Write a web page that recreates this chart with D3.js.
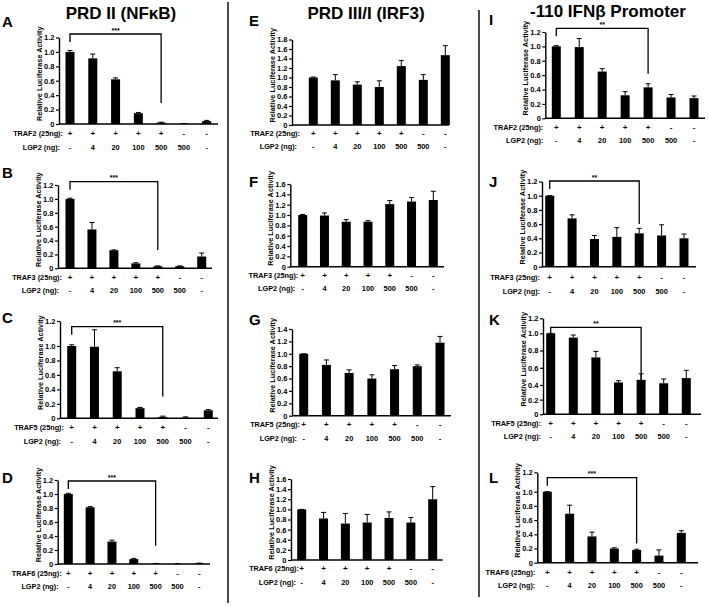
<!DOCTYPE html>
<html><head><meta charset="utf-8">
<script src="https://cdn.jsdelivr.net/npm/d3@7"></script>
<style>
html,body{margin:0;padding:0;background:#fff;}
svg{display:block;}
text{font-family:"Liberation Sans",Arial,sans-serif;font-weight:bold;fill:#000;}
</style></head>
<body>
<svg id="fig" width="709" height="607"></svg>
<script>
// ---------- DATA ----------
const columnTitles = ["PRD II (NF\u03BAB)", "PRD III/I (IRF3)", "-110 IFN\u03B2 Promoter"];
const panelLetters = ["A","B","C","D","E","F","G","H","I","J","K","L"];
const trafNames = ["TRAF2 (25ng):", "TRAF3 (25ng):", "TRAF5 (25ng):", "TRAF6 (25ng):"];
const lgp2Name = "LGP2 (ng):";
const conditions = [0,1,2,3,4,5,6];
const trafSigns = ["+","+","+","+","+","-","-"];
const lgp2Doses = ["-","4","20","100","500","500","-"];
const yLabel = "Relative Luciferase Activity";

// PRD II (NFkB)
const meanA = [1.00, 0.91, 0.62, 0.15, 0.02, 0.005, 0.04];
const errA  = [0.02, 0.06, 0.02, 0.01, 0.005, 0.002, 0.01];
const meanB = [1.00, 0.56, 0.26, 0.07, 0.03, 0.03, 0.17];
const errB  = [0.01, 0.10, 0.005, 0.01, 0.005, 0.005, 0.05];
const meanC = [1.00, 0.99, 0.65, 0.14, 0.02, 0.01, 0.11];
const errC  = [0.01, 0.14, 0.05, 0.01, 0.01, 0.01, 0.01];
const meanD = [1.00, 0.81, 0.32, 0.07, 0.005, 0.002, 0.01];
const errD  = [0.01, 0.01, 0.02, 0.01, 0.003, 0.002, 0.003];
// PRD III/I (IRF3)
const meanE = [1.00, 0.94, 0.85, 0.80, 1.24, 0.95, 1.47];
const errE  = [0.01, 0.12, 0.06, 0.13, 0.12, 0.11, 0.20];
const meanF = [1.00, 0.99, 0.87, 0.87, 1.21, 1.26, 1.29];
const errF  = [0.01, 0.05, 0.04, 0.02, 0.07, 0.08, 0.17];
const meanG = [1.00, 0.82, 0.69, 0.60, 0.75, 0.80, 1.18];
const errG  = [0.00, 0.08, 0.05, 0.06, 0.06, 0.02, 0.10];
const meanH = [1.00, 0.82, 0.72, 0.74, 0.83, 0.74, 1.20];
const errH  = [0.00, 0.12, 0.20, 0.16, 0.12, 0.10, 0.25];
// -110 IFNb promoter
const meanI = [1.00, 0.99, 0.65, 0.32, 0.43, 0.29, 0.28];
const errI  = [0.01, 0.12, 0.04, 0.05, 0.05, 0.04, 0.03];
const meanJ = [1.00, 0.68, 0.39, 0.42, 0.47, 0.44, 0.40];
const errJ  = [0.00, 0.05, 0.05, 0.13, 0.07, 0.15, 0.06];
const meanK = [1.00, 0.95, 0.72, 0.43, 0.46, 0.42, 0.48];
const errK  = [0.00, 0.03, 0.07, 0.02, 0.07, 0.05, 0.09];
const meanL = [1.00, 0.69, 0.37, 0.20, 0.18, 0.10, 0.42];
const errL  = [0.00, 0.12, 0.06, 0.01, 0.01, 0.08, 0.03];

const panelMeans = [meanA, meanB, meanC, meanD, meanE, meanF, meanG, meanH, meanI, meanJ, meanK, meanL];
const panelErrs  = [errA, errB, errC, errD, errE, errF, errG, errH, errI, errJ, errK, errL];
const panelYMax  = [1.2, 1.2, 1.2, 1.2, 1.8, 1.6, 1.4, 1.6, 1.2, 1.2, 1.2, 1.2];
const sigLabels  = ["***","***","***","***", null, null, null, null, "**","**","**","***"];
const sigLegEnd  = [0.29, 0.265, 0.30, 0.26, null, null, null, null, 0.62, 0.60, 0.38, 0.27];

// ---------- LAYOUT (pixels) ----------
const layout = [
  {ax:59,  ex:218, y0:124,   yt:37.5,  b0:70,    b1:206.7, r1:136,   r2:150,   bt:34,    ly:27},
  {ax:58,  ex:212, y0:268.3, yt:185,   b0:70,    b1:201.7, r1:279.5, r2:293,   bt:181.7, ly:178},
  {ax:60,  ex:218, y0:418.3, yt:321,   b0:71.7,  b1:208.3, r1:430,   r2:443.5, bt:326.7, ly:323, dom:[1.0], rng:[346]},
  {ax:57.7,ex:210, y0:564,   yt:480,   b0:68.3,  b1:199.3, r1:575.5, r2:588.5, bt:481,   ly:483},
  {ax:292, ex:449, y0:125,   yt:39.5,  b0:313.3, b1:445.3, r1:135.8, r2:148.8, ly:26},
  {ax:290.3,ex:444,y0:266.7, yt:184,   b0:302.7, b1:433.3, r1:278,   r2:290.8, ly:187},
  {ax:292, ex:451, y0:415.7, yt:329,   b0:303.7, b1:440,   r1:427,   r2:440.5, ly:325},
  {ax:291, ex:442.7,y0:560,  yt:479,   b0:301.7, b1:432.7, r1:571,   r2:584.8, ly:483},
  {ax:545.3,ex:705,y0:118.3, yt:32,    b0:556.3, b1:694,   r1:129.5, r2:143,   bt:28.3,  ly:25},
  {ax:542, ex:696, y0:266.7, yt:181.5, b0:549.7, b1:684,   r1:280,   r2:293.5, bt:181,   ly:187},
  {ax:543, ex:701, y0:414.3, yt:318.3, b0:550.7, b1:686.3, r1:425.5, r2:439,   bt:327.3, ly:325, dom:[0.4,1.0], rng:[385,333.3]},
  {ax:537.3,ex:698,y0:562.7, yt:472.3, b0:547.3, b1:681.3, r1:574.5, r2:588,   bt:477.7, ly:483, dom:[1.0], rng:[491.7]}
];
const letterX = [2, 249, 489];
const rowLabelOffset = [{t:4, l:1}, {t:8, l:5}, {t:-2, l:-2}];
const titleSpec = [{x:121, y:19}, {x:366, y:18.5}, {x:608, y:17}];

const svg = d3.select("#fig");
svg.append("rect").attr("width",709).attr("height",607).attr("fill","#fff");

svg.append("line").attr("x1",228).attr("x2",228).attr("y1",2).attr("y2",603).attr("stroke","#111").attr("stroke-width",1.5);
svg.append("line").attr("x1",479).attr("x2",479).attr("y1",10).attr("y2",597).attr("stroke","#111").attr("stroke-width",1.5);

columnTitles.forEach((t,i)=>{
  svg.append("text").attr("x",titleSpec[i].x).attr("y",titleSpec[i].y)
    .attr("text-anchor","middle").style("font-size","17px").text(t);
});

const fmt = d => d === 0 ? "0" : d3.format(".1f")(d);

panelLetters.forEach((letter, p) => {
  const L = layout[p];
  const col = Math.floor(p / 4), row = p % 4;
  const means = panelMeans[p], errs = panelErrs[p], ymax = panelYMax[p];
  const g = svg.append("g");

  const y = d3.scaleLinear()
    .domain([0, ...(L.dom || []), ymax])
    .range([L.y0, ...(L.rng || []), L.yt]);
  const x = d3.scalePoint().domain(conditions).range([L.b0, L.b1]);
  const bw = 9;

  g.append("text").attr("x", letterX[col]).attr("y", L.ly).style("font-size","15px").text(letter);

  g.selectAll("rect.bar").data(conditions).join("rect").attr("class","bar")
    .attr("x", d => x(d) - bw/2).attr("width", bw)
    .attr("y", d => y(means[d])).attr("height", d => y(0) - y(means[d]))
    .attr("fill","#000");

  g.selectAll("line.err").data(conditions).join("line").attr("class","err")
    .attr("x1", d => x(d)).attr("x2", d => x(d))
    .attr("y1", d => y(means[d])).attr("y2", d => y(means[d] + errs[d]))
    .attr("stroke","#000").attr("stroke-width",1);
  g.selectAll("line.cap").data(conditions).join("line").attr("class","cap")
    .attr("x1", d => x(d) - 2.5).attr("x2", d => x(d) + 2.5)
    .attr("y1", d => y(means[d] + errs[d])).attr("y2", d => y(means[d] + errs[d]))
    .attr("stroke","#000").attr("stroke-width",1);

  const ticks = d3.range(0, ymax + 1e-6, 0.2).map(v => +v.toFixed(1));
  const axis = g.append("g").attr("transform", `translate(${L.ax},0)`)
    .call(d3.axisLeft(y).tickValues(ticks).tickFormat(fmt).tickSize(3).tickPadding(1.5).tickSizeOuter(0));
  axis.select(".domain").attr("stroke","#000").attr("stroke-width",1.4);
  axis.selectAll(".tick line").attr("stroke","#000").attr("stroke-width",1.2);
  axis.selectAll(".tick text").style("font-size","7.5px").style("font-weight","bold")
    .style("font-family","'Liberation Sans',Arial,sans-serif").attr("fill","#000");

  g.append("line").attr("x1", L.ax).attr("x2", L.ex).attr("y1", L.y0).attr("y2", L.y0)
    .attr("stroke","#000").attr("stroke-width",1.6);

  g.append("text").attr("transform", `translate(${L.ax - 17},${(L.y0 + L.yt)/2 - 7}) rotate(-90)`)
    .attr("text-anchor","middle").style("font-size","7.3px").text(yLabel);

  const off = rowLabelOffset[col];
  g.append("text").attr("x", L.ax + off.t).attr("y", L.r1).attr("text-anchor","end").style("font-size","7.3px").text(trafNames[row]);
  g.append("text").attr("x", L.ax + off.l).attr("y", L.r2).attr("text-anchor","end").style("font-size","7.3px").text(lgp2Name);
  g.selectAll("text.sgn").data(conditions).join("text").attr("class","sgn")
    .attr("x", d => x(d)).attr("y", L.r1).attr("text-anchor","middle").style("font-size","8px").text(d => trafSigns[d]);
  g.selectAll("text.dose").data(conditions).join("text").attr("class","dose")
    .attr("x", d => x(d)).attr("y", L.r2).attr("text-anchor","middle").style("font-size","7.4px").text(d => lgp2Doses[d]);

  if (sigLabels[p]) {
    const xa = x(0), xb = x(4);
    const path = d3.path();
    path.moveTo(xa, L.bt + 8); path.lineTo(xa, L.bt); path.lineTo(xb, L.bt); path.lineTo(xb, y(sigLegEnd[p]));
    g.append("path").attr("d", path.toString()).attr("fill","none").attr("stroke","#000").attr("stroke-width",1.3);
    g.append("text").attr("x",(xa+xb)/2).attr("y", L.bt - 1.5).attr("text-anchor","middle")
      .style("font-size","7px").text(sigLabels[p]);
  }
});
</script>
</body></html>
